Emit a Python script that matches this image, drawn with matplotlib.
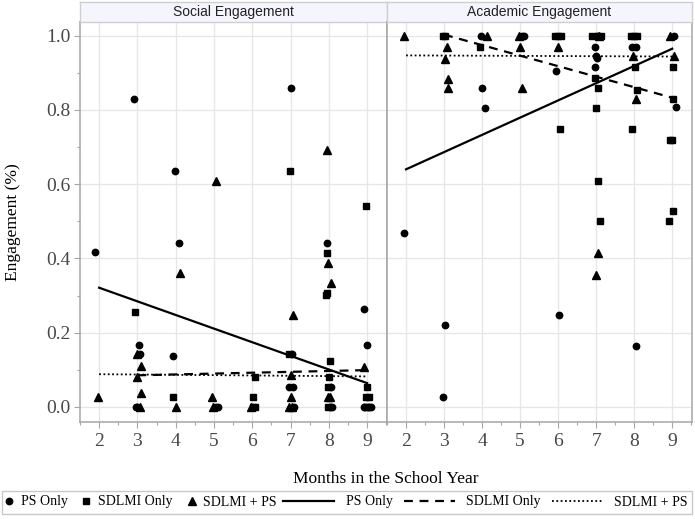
# Social / Academic engagement scatter with fitted lines

import numpy as np
import matplotlib.pyplot as plt
from matplotlib.lines import Line2D
from matplotlib.patches import Rectangle
from matplotlib.ticker import MultipleLocator


FILE_NAME = "out.png"
SERIF = ["Liberation Serif", "DejaVu Serif"]
SANS = ["Liberation Sans", "DejaVu Sans"]

PANEL_TITLES = ["Social Engagement", "Academic Engagement"]
X_LABEL = "Months in the School Year"
Y_LABEL = "Engagement (%)"
MONTHS = [2, 3, 4, 5, 6, 7, 8, 9]
Y_TICKS = [0.0, 0.2, 0.4, 0.6, 0.8, 1.0]
LEGEND_LABELS = ["PS Only", "SDLMI Only", "SDLMI + PS"]

# --- Social engagement: observed points ---
soc_ps_x = [1.9, 2.92, 3.05, 3.06, 2.95, 3.0, 3.99, 4.09, 3.93, 5.05, 5.1,
            7.0, 7.05, 6.96, 7.06, 7.08, 7.95, 8.05, 8.02, 8.08,
            8.92, 9.0, 8.92, 9.05, 9.1]
soc_ps_y = [0.417, 0.829, 0.167, 0.142, 0.0, 0.0, 0.635, 0.441, 0.138, 0.0, 0.0,
            0.858, 0.142, 0.054, 0.054, 0.0, 0.441, 0.054, 0.0, 0.0,
            0.263, 0.167, 0.0, 0.0, 0.0]

soc_sd_x = [2.94, 3.94, 6.06, 6.01, 6.03, 6.08, 6.98, 6.95,
            7.96, 7.93, 7.94, 8.02, 8.0, 7.98, 7.97,
            8.98, 9.0, 8.97, 9.05, 8.97, 9.0]
soc_sd_y = [0.256, 0.027, 0.081, 0.027, 0.0, 0.0, 0.635, 0.142,
            0.414, 0.302, 0.308, 0.123, 0.081, 0.054, 0.0,
            0.542, 0.054, 0.027, 0.027, 0.0, 0.0]

soc_both_x = [1.98, 3.0, 3.1, 3.0, 3.1, 3.07, 4.12, 4.0, 5.05, 4.96, 4.97, 5.97,
              7.06, 7.0, 7.02, 6.97, 7.05, 7.95, 7.97, 8.06, 7.97, 8.03, 8.91]
soc_both_y = [0.027, 0.142, 0.111, 0.081, 0.037, 0.0, 0.36, 0.0, 0.609, 0.027, 0.0, 0.0,
              0.247, 0.086, 0.027, 0.0, 0.0, 0.691, 0.388, 0.333, 0.027, 0.027, 0.108]

# --- Social engagement: fitted lines ---
soc_fit_ps = ([2, 9], [0.321, 0.064])
soc_fit_sd = ([3, 9], [0.085, 0.099])
soc_fit_both = ([2, 9], [0.088, 0.082])

# --- Academic engagement: observed points ---
aca_ps_x = [1.96, 3.03, 2.97, 3.96, 4.0, 4.09, 5.05, 5.1, 5.95, 6.02,
            7.0, 7.05, 6.98, 7.0, 7.02, 6.98, 7.94, 8.05, 8.04, 9.05, 9.1]
aca_ps_y = [0.469, 0.22, 0.026, 1.0, 0.858, 0.804, 1.0, 1.0, 0.906, 0.247,
            1.0, 1.0, 0.97, 0.946, 0.94, 0.917, 0.97, 0.97, 0.165, 1.0, 0.809]

aca_sd_x = [2.97, 3.03, 3.94, 5.93, 6.0, 6.08, 6.05,
            6.9, 7.12, 6.98, 7.06, 7.0, 7.06, 7.11,
            7.92, 8.0, 8.08, 8.02, 8.08, 7.95,
            9.01, 9.03, 8.94, 9.0, 9.01, 8.91]
aca_sd_y = [1.0, 1.0, 0.97, 1.0, 1.0, 1.0, 0.75,
            1.0, 1.0, 0.886, 0.858, 0.804, 0.609, 0.501,
            1.0, 1.0, 1.0, 0.917, 0.855, 0.75,
            0.917, 0.83, 0.72, 0.72, 0.527, 0.501]

aca_both_x = [1.94, 3.07, 3.03, 3.1, 3.1, 4.12, 4.97, 4.99, 5.04, 5.99,
              7.06, 7.0, 7.08, 7.96, 8.06, 8.95, 9.04]
aca_both_y = [1.0, 0.97, 0.936, 0.883, 0.858, 1.0, 1.0, 0.97, 0.858, 0.97,
              0.415, 0.355, 1.0, 0.946, 0.83, 1.0, 0.946]

# --- Academic engagement: fitted lines ---
aca_fit_ps = ([2, 9], [0.64, 0.965])
aca_fit_sd = ([3, 9], [1.003, 0.833])
aca_fit_both = ([2, 9], [0.947, 0.944])

# マーカーと線のスタイル
MARKERS = [("o", 4.6), ("s", 4.4), ("^", 5.2)]
LINES = [dict(ls="-", lw=1.6),
         dict(ls=(0, (4, 3)), lw=1.6),
         dict(ls=(0, (1, 1.4)), lw=1.3)]
FRAME = "#A6A6A6"
GRID = "#E6E6E6"
TICK_TXT = "#484848"


def draw_panel(ax, points, fits, show_y):
    """1パネル分の散布図と回帰線を描画"""
    for (xs, ys), (mk, ms) in zip(points, MARKERS):
        ax.plot(xs, ys, ls="none", marker=mk, ms=ms, color="black", zorder=3)
    for (xs, ys), st in zip(fits, LINES):
        ax.plot(xs, ys, color="black", zorder=4, **st)

    ax.set_xlim(1.5, 9.52)
    ax.set_ylim(-0.040, 1.037)
    ax.set_xticks(MONTHS)
    ax.xaxis.set_minor_locator(MultipleLocator(0.5))
    ax.set_yticks(Y_TICKS)
    ax.yaxis.set_minor_locator(MultipleLocator(0.1))
    ax.grid(True, which="major", color=GRID, lw=0.9, zorder=0)
    ax.set_axisbelow(True)

    for sp in ax.spines.values():
        sp.set_color(FRAME)
        sp.set_linewidth(1.1)

    ax.tick_params(axis="x", which="major", length=4, width=0.8, color=FRAME,
                   labelcolor=TICK_TXT, labelsize=14, pad=4)
    ax.tick_params(axis="x", which="minor", length=2.5, width=0.8, color=FRAME)
    if show_y:
        ax.tick_params(axis="y", which="major", length=4, width=0.8, color=FRAME,
                       labelcolor=TICK_TXT, labelsize=14, pad=3)
        ax.tick_params(axis="y", which="minor", length=2.5, width=0.8, color=FRAME)
        ax.set_yticklabels([f"{v:.1f}" for v in Y_TICKS])
    else:
        ax.tick_params(axis="y", which="both", left=False, labelleft=False)
    for lab in ax.get_xticklabels() + ax.get_yticklabels():
        lab.set_fontfamily(SERIF)


def draw_strip(fig, rect, title):
    """パネル上部のタイトル帯"""
    sx = fig.add_axes(rect)
    sx.set_facecolor("#F5F5FD")
    sx.set_xticks([])
    sx.set_yticks([])
    for sp in sx.spines.values():
        sp.set_color("#CFCFCF")
        sp.set_linewidth(1.0)
    sx.text(0.5, 0.5, title, ha="center", va="center", fontsize=10,
            family=SANS, color="#222222")


def main():
    W, H = 695, 519
    fig = plt.figure(figsize=(W / 100, H / 100), dpi=100)

    top, bottom = 22, 421.7
    panels = [(80, 387), (387, 692)]
    data = [
        ([(soc_ps_x, soc_ps_y), (soc_sd_x, soc_sd_y), (soc_both_x, soc_both_y)],
         [soc_fit_ps, soc_fit_sd, soc_fit_both]),
        ([(aca_ps_x, aca_ps_y), (aca_sd_x, aca_sd_y), (aca_both_x, aca_both_y)],
         [aca_fit_ps, aca_fit_sd, aca_fit_both]),
    ]
    for i, ((x0, x1), (pts, fits)) in enumerate(zip(panels, data)):
        ax = fig.add_axes([x0 / W, 1 - bottom / H, (x1 - x0) / W, (bottom - top) / H])
        draw_panel(ax, pts, fits, show_y=(i == 0))
        draw_strip(fig, [x0 / W, 1 - top / H, (x1 - x0) / W, 20 / H], PANEL_TITLES[i])

    fig.text(386 / W, 1 - 479 / H, X_LABEL, ha="center", va="center",
             fontsize=12.5, family=SERIF)
    fig.text(13 / W, 1 - 222 / H, Y_LABEL, ha="center", va="center",
             rotation=90, fontsize=12.5, family=SERIF)

    # 凡例（マーカーと線を別々に配置し、外枠を描く）
    y_leg = 1 - 502 / H
    fig.patches.append(Rectangle((2 / W, 1 - 514 / H), 690 / W, 23 / H,
                                 transform=fig.transFigure, fill=False,
                                 ec="#C8C8C8", lw=1.0))
    mk_handles = [Line2D([], [], ls="none", marker=mk, ms=ms, color="black")
                  for mk, ms in MARKERS]
    ln_handles = [Line2D([], [], color="black", **st) for st in LINES]
    leg_kw = dict(frameon=False, ncol=3, prop=dict(family=SERIF, size=10),
                  borderaxespad=0, borderpad=0, handleheight=0.7)
    fig.legend(mk_handles, LEGEND_LABELS, loc="center left",
               bbox_to_anchor=(4 / W, y_leg), handlelength=0.7,
               handletextpad=0.5, columnspacing=1.0, **leg_kw)
    fig.legend(ln_handles, LEGEND_LABELS, loc="center right",
               bbox_to_anchor=(688 / W, y_leg), handlelength=3.7,
               handletextpad=0.8, columnspacing=0.8, **leg_kw)

    fig.savefig(FILE_NAME, dpi=100)


if __name__ == "__main__":
    main()
